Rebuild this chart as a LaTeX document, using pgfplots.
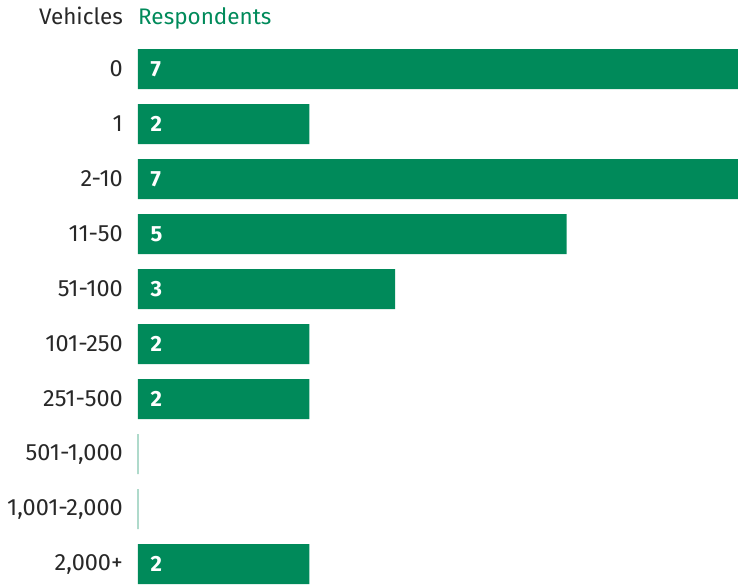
\documentclass[border=0pt]{standalone}
\usepackage{pgfplots}
\pgfplotsset{compat=1.18}
\usepackage{fontspec}
\setmainfont{Fira Sans}
\definecolor{barg}{RGB}{0,138,90}
\definecolor{zerog}{RGB}{175,218,203}
\definecolor{txt}{RGB}{40,40,40}
\begin{document}
\begin{tikzpicture}
\begin{axis}[
  scale only axis,
  width=600pt, height=535pt,
  xmin=0, xmax=7,
  ymin=-0.3636, ymax=9.3636,
  y dir=reverse,
  axis line style={draw=none},
  tick style={draw=none},
  xtick=\empty,
  ytick={0,...,9},
  yticklabels={0,1,2-10,11-50,51-100,101-250,251-500,{501-1,000},{1,001-2,000},{2,000+}},
  major tick length=0pt,
  yticklabel style={font=\fontsize{23.5}{26}\selectfont, text=txt, anchor=east, inner sep=0pt, xshift=-15pt},
  clip=false,
]
\addplot[xbar, bar shift=0pt, bar width=40pt, fill=barg, draw=none]
  coordinates {(7,0) (2,1) (7,2) (5,3) (3,4) (2,5) (2,6) (2,9)};
\addplot[xbar, bar shift=0pt, bar width=40pt, fill=none, draw=zerog, line width=1.2pt]
  coordinates {(0,7) (0,8)};
\addplot[only marks, mark=none, point meta=explicit symbolic,
  nodes near coords,
  nodes near coords style={anchor=west, xshift=9pt, text=white, font=\fontsize{22}{24}\selectfont\bfseries}]
  table[meta=lab] {
x y lab
0 0 7
0 1 2
0 2 7
0 3 5
0 4 3
0 5 2
0 6 2
0 9 2
};
\node[anchor=base east, inner sep=0pt, text=txt, font=\fontsize{22.5}{25}\selectfont] at ([xshift=-15pt, yshift=25pt]rel axis cs:0,1) {Vehicles};
\node[anchor=base west, inner sep=0pt, text=barg, font=\fontsize{22.5}{25}\selectfont] at ([yshift=25pt]rel axis cs:0,1) {Respondents};
\end{axis}
\pgfresetboundingbox
\path[use as bounding box] ([xshift=-138pt]current axis.south west) rectangle ([yshift=49pt]current axis.north east);
\end{tikzpicture}
\end{document}
